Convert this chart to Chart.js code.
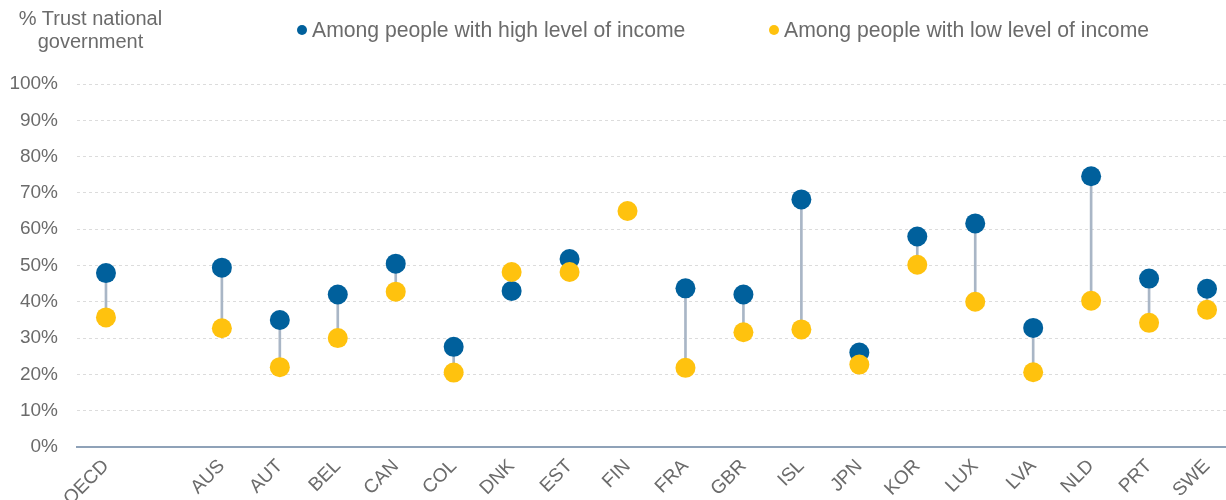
<!DOCTYPE html>
<html>
<head>
<meta charset="utf-8">
<script src="https://cdn.jsdelivr.net/npm/chart.js@4"></script>
<style>
body{margin:0;overflow:hidden;background:#fff;font-family:"Liberation Sans",Arial,sans-serif;}
#wrap{position:relative;width:1246px;height:500px;}
#ytitle{position:absolute;left:0;top:7px;width:181px;text-align:center;font-size:20px;line-height:23px;color:#6b6b6b;}
.leg{position:absolute;top:18px;font-size:21.2px;line-height:24px;color:#6b6b6b;white-space:nowrap;}
.leg i{display:inline-block;width:10px;height:10px;border-radius:50%;margin-right:5px;vertical-align:2px;}
</style>
</head>
<body>
<div id="wrap">
<canvas id="chartCanvas" width="1246" height="500"></canvas>
<div id="ytitle">% Trust national<br>government</div>
<div class="leg" style="left:297px"><i style="background:#00609c"></i>Among people with high level of income</div>
<div class="leg" style="left:769px"><i style="background:#ffc20e"></i>Among people with low level of income</div>
</div>
<script>
const countries=['OECD','','AUS','AUT','BEL','CAN','COL','DNK','EST','FIN','FRA','GBR','ISL','JPN','KOR','LUX','LVA','NLD','PRT','SWE'];
const highIncome=[47.9,null,49.4,35,42,50.5,27.6,43,51.8,null,43.7,42,68.2,26,58,61.6,32.8,74.6,46.4,43.6];
const lowIncome=[35.7,null,32.7,22,30,42.8,20.5,48.2,48.2,65,21.8,31.6,32.4,22.7,50.2,40,20.6,40.3,34.2,37.8];
const yTicks=[0,10,20,30,40,50,60,70,80,90,100];

const gaps=highIncome.map((h,i)=>(h==null||lowIncome[i]==null)?null:[lowIncome[i],h]);

function drawTrustChart(){
    const ctx=document.getElementById("chartCanvas").getContext("2d");
    if(window.trustChart)window.trustChart.destroy();
    window.trustChart=new Chart(ctx,{
        data:{
            labels:countries,
            datasets:[
                {type:'line',label:'low',data:lowIncome,showLine:false,pointRadius:10,pointHoverRadius:10,
                 pointBackgroundColor:'#ffc20e',pointBorderWidth:0,order:1},
                {type:'line',label:'high',data:highIncome,showLine:false,pointRadius:10,pointHoverRadius:10,
                 pointBackgroundColor:'#00609c',pointBorderWidth:0,order:2},
                {type:'bar',label:'gap',data:gaps,backgroundColor:'#a9b6c6',barThickness:2,order:3}
            ]
        },
        options:{
            responsive:false,
            animation:false,
            layout:{padding:{top:84,left:0,right:0,bottom:0}},
            plugins:{legend:{display:false},tooltip:{enabled:false}},
            scales:{
                x:{
                    grid:{display:false},
                    border:{display:true,color:'#8fa2b8',width:2},
                    ticks:{color:'#6b6b6b',font:{family:'"Liberation Sans", Arial',size:19},minRotation:45,maxRotation:45,padding:0,autoSkip:false},
                    afterFit:s=>{s.height=53;}
                },
                y:{
                    min:0,max:100,
                    afterBuildTicks:s=>{s.ticks=yTicks.map(v=>({value:v}));},
                    grid:{color:'#dcdcdc',drawTicks:false,lineWidth:1},
                    border:{display:false,dash:[3,3]},
                    ticks:{color:'#6b6b6b',font:{family:'"Liberation Sans", Arial',size:19},padding:19,callback:v=>v+'%'},
                    afterFit:s=>{s.width=77;}
                }
            }
        }
    });
}

drawTrustChart();
</script>
</body>
</html>
